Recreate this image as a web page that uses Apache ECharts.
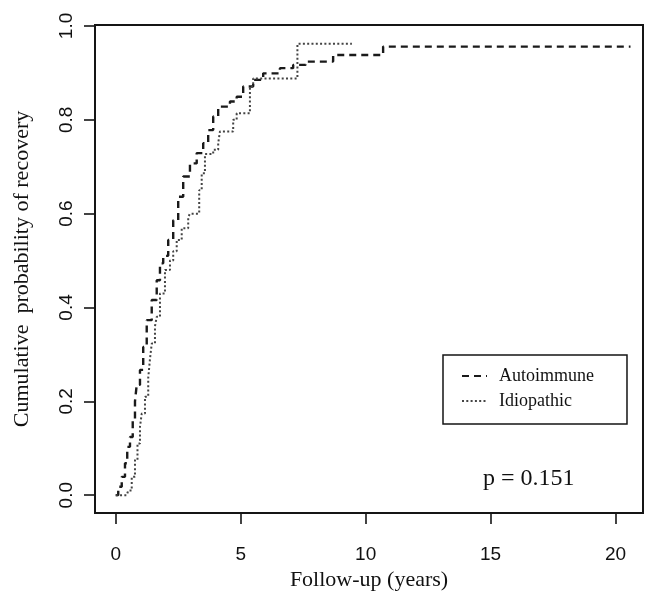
<!DOCTYPE html>
<html>
<head>
<meta charset="utf-8">
<script src="https://cdn.jsdelivr.net/npm/echarts@6/dist/echarts.min.js"></script>
<style>
html,body{margin:0;padding:0;background:#fff;}
#chart{width:648px;height:591px;}
</style>
</head>
<body>
<div id="chart"></div>
<script>
// ---- data ----
const seriesNames = ['Autoimmune', 'Idiopathic'];
const autoX = [0, 0.1, 0.24, 0.37, 0.46, 0.57, 0.68, 0.77, 0.84, 0.97, 1.1, 1.24, 1.44, 1.64, 1.77, 1.9, 2.1, 2.3, 2.5, 2.7, 2.97, 3.24, 3.5, 3.7, 3.9, 4.1, 4.57, 4.84, 5.1, 5.5, 5.9, 6.57, 7.1, 7.6, 8.7, 10.7, 20.6];
const autoY = [0, 0.018, 0.039, 0.068, 0.103, 0.124, 0.16, 0.2, 0.235, 0.267, 0.316, 0.373, 0.416, 0.458, 0.494, 0.51, 0.544, 0.586, 0.636, 0.679, 0.707, 0.729, 0.75, 0.778, 0.807, 0.828, 0.839, 0.849, 0.871, 0.885, 0.899, 0.91, 0.917, 0.924, 0.938, 0.956, 0.956];
const idioX = [0, 0.44, 0.5, 0.64, 0.77, 0.87, 0.97, 1.04, 1.17, 1.3, 1.37, 1.44, 1.57, 1.64, 1.77, 1.97, 2.17, 2.3, 2.44, 2.64, 2.9, 2.97, 3.34, 3.44, 3.57, 3.9, 4.1, 4.17, 4.7, 4.84, 5.37, 5.5, 7.27, 9.45];
const idioY = [0, 0, 0.01, 0.039, 0.075, 0.11, 0.146, 0.174, 0.21, 0.25, 0.29, 0.323, 0.36, 0.38, 0.43, 0.48, 0.5, 0.52, 0.544, 0.569, 0.593, 0.6, 0.65, 0.686, 0.727, 0.736, 0.75, 0.775, 0.8, 0.814, 0.871, 0.888, 0.962, 0.962];
const xTicks = [0, 5, 10, 15, 20];
const yTicks = [0, 0.2, 0.4, 0.6, 0.8, 1.0];
const xTitle = 'Follow-up (years)';
const yTitle = 'Cumulative  probability of recovery';
const pText = 'p = 0.151';

const pairs = (xs, ys) => xs.map((x, i) => [x, ys[i]]);
const SERIF = '"Liberation Serif", "Times New Roman", serif';
const SANS = '"Liberation Sans", Arial, sans-serif';
const INK = '#151515';

const chart = echarts.init(document.getElementById('chart'), null, {renderer: 'canvas'});
chart.setOption({
  animation: false,
  backgroundColor: '#fff',
  grid: {left: 95, right: 5, top: 25, bottom: 78, show: true, borderColor: INK, borderWidth: 2,
    backgroundColor: 'transparent', containLabel: false, outerBoundsMode: 'none'},
  title: {
    text: pText, left: 478, top: 462,
    textStyle: {fontFamily: SERIF, fontSize: 24, fontWeight: 'normal', color: '#111'}
  },
  legend: {
    orient: 'vertical', left: 443, top: 355,
    padding: [12, 33, 14, 18], itemGap: 7, itemWidth: 25, itemHeight: 18,
    borderColor: INK, borderWidth: 1.5,
    itemStyle: {opacity: 0},
    textStyle: {fontFamily: SERIF, fontSize: 18, color: '#111', padding: [0, 0, 0, 7]},
    data: seriesNames
  },
  xAxis: {
    type: 'value', min: -0.83, max: 21.1,
    name: xTitle, nameLocation: 'middle', nameGap: 54,
    nameTextStyle: {fontFamily: SERIF, fontSize: 22, color: '#111'},
    axisLine: {show: false, onZero: false},
    axisTick: {show: true, length: 11, customValues: xTicks, lineStyle: {color: INK, width: 1.6}},
    axisLabel: {customValues: xTicks, margin: 32, fontFamily: SANS, fontSize: 19, color: '#111'},
    splitLine: {show: false}
  },
  yAxis: {
    type: 'value', min: -0.038, max: 1.002,
    name: yTitle, nameLocation: 'middle', nameGap: 62, nameRotate: 90,
    nameTextStyle: {fontFamily: SERIF, fontSize: 22, color: '#111'},
    axisLine: {show: false, onZero: false},
    axisTick: {show: true, length: 11, customValues: yTicks, lineStyle: {color: INK, width: 1.6}},
    axisLabel: {customValues: yTicks, rotate: 90, margin: 19, fontFamily: SANS, fontSize: 19, color: '#111',
      formatter: v => v.toFixed(1)},
    splitLine: {show: false}
  },
  series: [
    {
      name: seriesNames[0], type: 'line', step: 'end', symbol: 'none',
      data: pairs(autoX, autoY),
      lineStyle: {color: '#1a1a1a', width: 2.4, type: [7, 5], cap: 'butt'},
      itemStyle: {color: '#1a1a1a'}
    },
    {
      name: seriesNames[1], type: 'line', step: 'end', symbol: 'none',
      data: pairs(idioX, idioY),
      lineStyle: {color: '#444', width: 2, type: [2, 2.3], cap: 'butt'},
      itemStyle: {color: '#444'}
    }
  ]
});
</script>
</body>
</html>
